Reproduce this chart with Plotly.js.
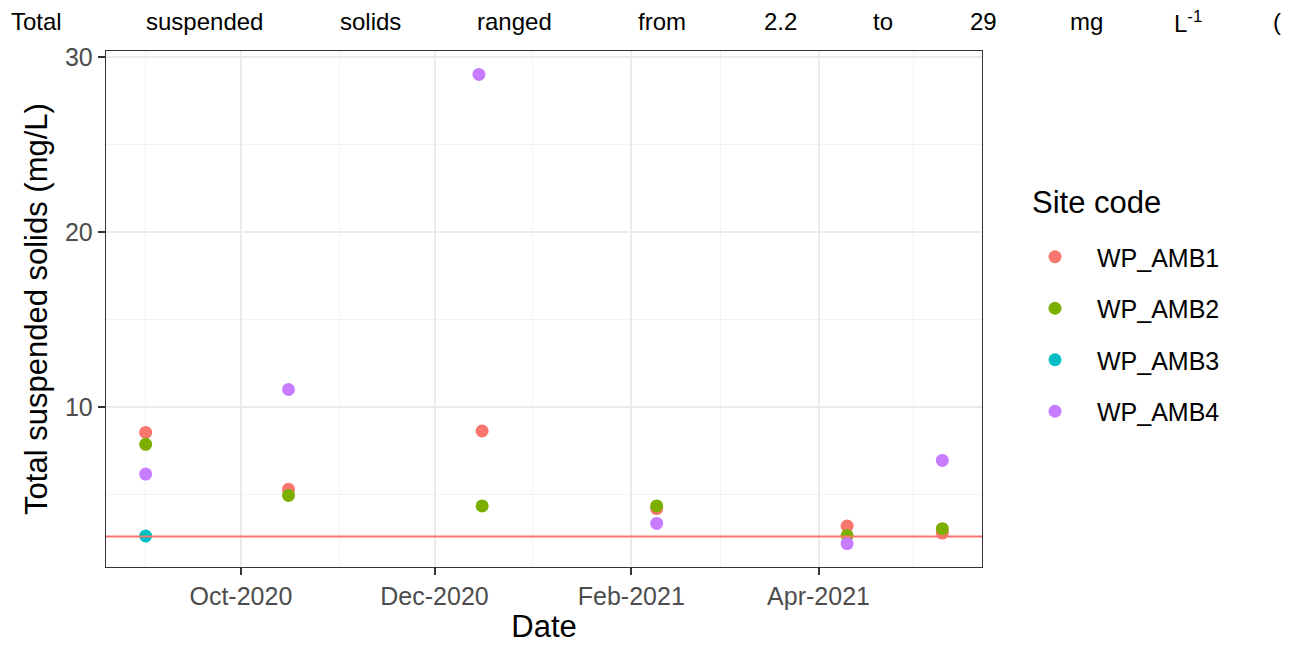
<!DOCTYPE html>
<html>
<head>
<meta charset="utf-8">
<script src="https://cdn.plot.ly/plotly-3.0.1.min.js"></script>
<style>html,body{margin:0;padding:0;background:#fff;}#chart{width:1299px;height:646px;}</style>
</head>
<body>
<div id="chart"></div>
<script>
// ---- data ----
const siteCodes = ['WP_AMB1', 'WP_AMB2', 'WP_AMB3', 'WP_AMB4'];
const siteColors = ['#F8766D', '#7CAE00', '#00BFC4', '#C77CFF'];
const datesAMB1 = ['2020-09-01', '2020-10-16', '2020-12-16', '2021-02-09', '2021-04-10', '2021-05-10'];
const tssAMB1 = [8.55, 5.3, 8.63, 4.2, 3.2, 2.8];
const datesAMB2 = ['2020-09-01', '2020-10-16', '2020-12-16', '2021-02-09', '2021-04-10', '2021-05-10'];
const tssAMB2 = [7.87, 4.95, 4.35, 4.35, 2.66, 3.05];
const datesAMB3 = ['2020-09-01'];
const tssAMB3 = [2.63];
const datesAMB4 = ['2020-09-01', '2020-10-16', '2020-12-15', '2021-02-09', '2021-04-10', '2021-05-10'];
const tssAMB4 = [6.17, 11.0, 29.0, 3.35, 2.2, 6.95];
const referenceLine = 2.6;
const headerWords = ['Total', 'suspended', 'solids', 'ranged', 'from', '2.2', 'to', '29', 'mg', 'L<sup>-1</sup>', '('];

// ---- layout helpers (pixel geometry) ----
const W = 1299, H = 646;
const plotL = 106, plotR = 982, plotT = 51, plotB = 567;
const px2x = p => (p - plotL) / (plotR - plotL);
const px2y = p => (plotB - p) / (plotB - plotT);
const headerCenters = [36, 204, 370, 514, 662, 780, 883, 983, 1086, 1188, 1277];

const allDates = [datesAMB1, datesAMB2, datesAMB3, datesAMB4];
const allVals = [tssAMB1, tssAMB2, tssAMB3, tssAMB4];

const traces = siteCodes.map((name, i) => ({
  type: 'scatter', mode: 'markers', name: name,
  x: allDates[i], y: allVals[i],
  legendgroup: name,
  marker: {color: siteColors[i], size: 13, line: {width: 0}},
  hoverinfo: 'x+y+name'
}));

const annotations = headerWords.map((w, i) => ({
  text: w, xref: 'paper', yref: 'paper',
  x: px2x(headerCenters[i]), y: px2y(22),
  xanchor: 'center', yanchor: 'middle', showarrow: false,
  font: {family: 'Liberation Sans Narrow, Liberation Sans, sans-serif', size: 24, color: '#000'}
}));
annotations.push({
  text: 'Site code', xref: 'paper', yref: 'paper',
  x: px2x(1030), y: px2y(203), xanchor: 'left', yanchor: 'middle', showarrow: false,
  font: {family: 'Liberation Sans, Arial, sans-serif', size: 31, color: '#000'}
});

const layout = {
  width: W, height: H,
  margin: {l: plotL, r: W - plotR, t: plotT, b: H - plotB, pad: 0},
  paper_bgcolor: '#fff', plot_bgcolor: '#fff',
  font: {family: 'Liberation Sans, Arial, sans-serif', color: '#000'},
  showlegend: true,
  xaxis: {
    type: 'date',
    range: ['2020-08-19 12:00', '2021-05-22 12:00'],
    tick0: '2020-10-01', dtick: 'M2', tickformat: '%b-%Y',
    ticks: 'outside', ticklen: 7, tickwidth: 2, tickcolor: '#333',
    tickfont: {size: 25, color: '#4d4d4d'},
    showgrid: true, gridcolor: '#ebebeb', gridwidth: 2,
    minor: {tick0: '2020-09-01', dtick: 'M1', showgrid: true, gridcolor: '#f2f2f2', gridwidth: 1, ticks: ''},
    showline: true, linecolor: '#333', linewidth: 1.3, mirror: true,
    zeroline: false,
    title: {text: 'Date', font: {size: 31, color: '#000'}, standoff: 6},
    automargin: false
  },
  yaxis: {
    range: [0.86, 30.34],
    tick0: 0, dtick: 10,
    ticks: 'outside', ticklen: 7, tickwidth: 2, tickcolor: '#333',
    tickfont: {size: 25, color: '#4d4d4d'},
    showgrid: true, gridcolor: '#ebebeb', gridwidth: 2,
    minor: {dtick: 5, showgrid: true, gridcolor: '#f2f2f2', gridwidth: 1, ticks: ''},
    showline: true, linecolor: '#333', linewidth: 1.3, mirror: true,
    zeroline: false,
    title: {text: 'Total suspended solids (mg/L)', font: {size: 31, color: '#000'}, standoff: 8},
    automargin: false
  },
  shapes: [{
    type: 'line', xref: 'paper', x0: 0, x1: 1, yref: 'y', y0: referenceLine, y1: referenceLine,
    line: {color: '#F8766D', width: 2}, layer: 'above'
  }],
  legend: {
    x: px2x(1013), xanchor: 'left', y: px2y(234), yanchor: 'top',
    traceorder: 'grouped', tracegroupgap: 16,
    itemwidth: 74,
    font: {size: 25, color: '#000'},
    bgcolor: 'rgba(0,0,0,0)', borderwidth: 0
  },
  annotations: annotations
};

Plotly.newPlot('chart', traces, layout, {displayModeBar: false, staticPlot: true});
</script>
</body>
</html>
